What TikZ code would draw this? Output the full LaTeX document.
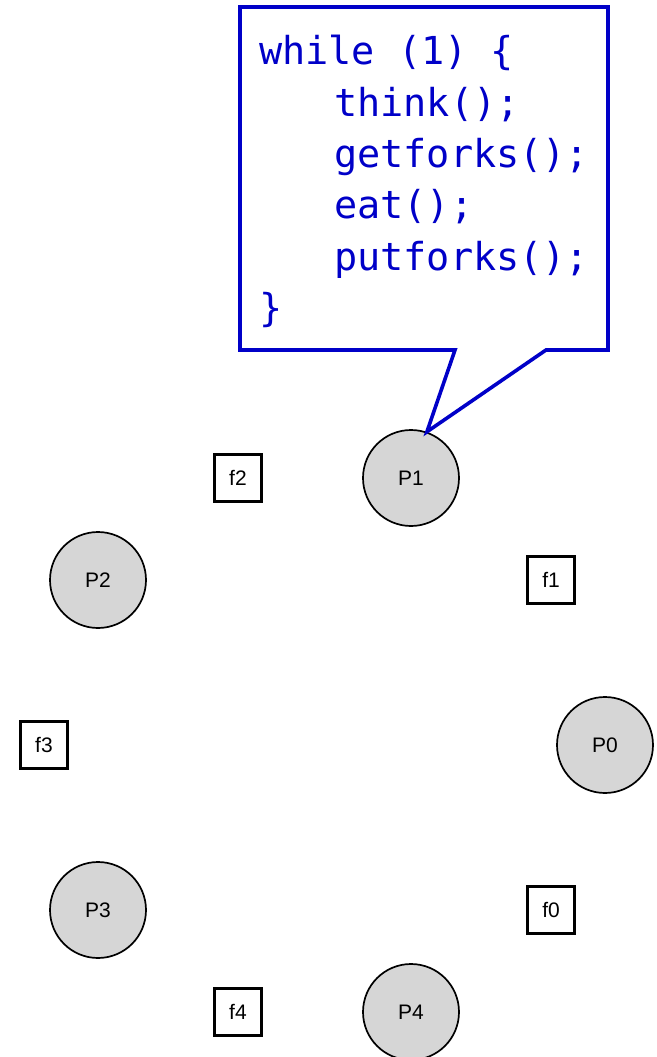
\documentclass[tikz,border=0pt]{standalone}
\usepackage{fontspec}
\setmainfont{Liberation Sans}
\newfontfamily\codefont{DejaVu Sans Mono}
\definecolor{codeblue}{RGB}{0,0,200}
\definecolor{philgray}{RGB}{214,214,214}
\begin{document}
\begin{tikzpicture}[x=1pt,y=-1pt,
  phil/.style={circle,draw=black,line width=1.7pt,fill=philgray,minimum size=96pt,inner sep=0pt,font=\fontsize{21}{24}\selectfont},
  fork/.style={rectangle,draw=black,line width=2.2pt,fill=white,minimum size=47pt,inner sep=0pt,font=\fontsize{21}{24}\selectfont},
  codeline/.style={anchor=base west,inner sep=0pt,text=codeblue,font=\codefont\fontsize{38.5}{40}\selectfont},
  callout/.style={draw=codeblue,line width=3.6pt,fill=white,line join=miter}]
\useasboundingbox (0,0) rectangle (656,1057);
% philosophers
\node[phil] (P1) at (411,478) {P1};
\node[phil] (P2) at (98,580) {P2};
\node[phil] (P0) at (605,745) {P0};
\node[phil] (P3) at (98,910) {P3};
\node[phil] (P4) at (411,1012) {P4};
% forks
\node[fork] (f2) at (238,478) {f2};
\node[fork] (f1) at (551,580) {f1};
\node[fork] (f3) at (44,745) {f3};
\node[fork] (f0) at (551,910) {f0};
\node[fork] (f4) at (238,1012) {f4};
% callout
\coordinate (tip) at (P1.71);
\draw[callout] (240,7) -- (608,7) -- (608,350) -- (546,350) -- (tip) -- (455,350) -- (240,350) -- cycle;
\node[codeline] (c1) at (259,65) {while (1) \{};
\node[codeline] (c2) at (334,116) {think();};
\node[codeline] (c3) at (334,167) {getforks();};
\node[codeline] (c4) at (334,218) {eat();};
\node[codeline] (c5) at (334,270) {putforks();};
\node[codeline] (c6) at (259,321) {\}};
\end{tikzpicture}
\end{document}
